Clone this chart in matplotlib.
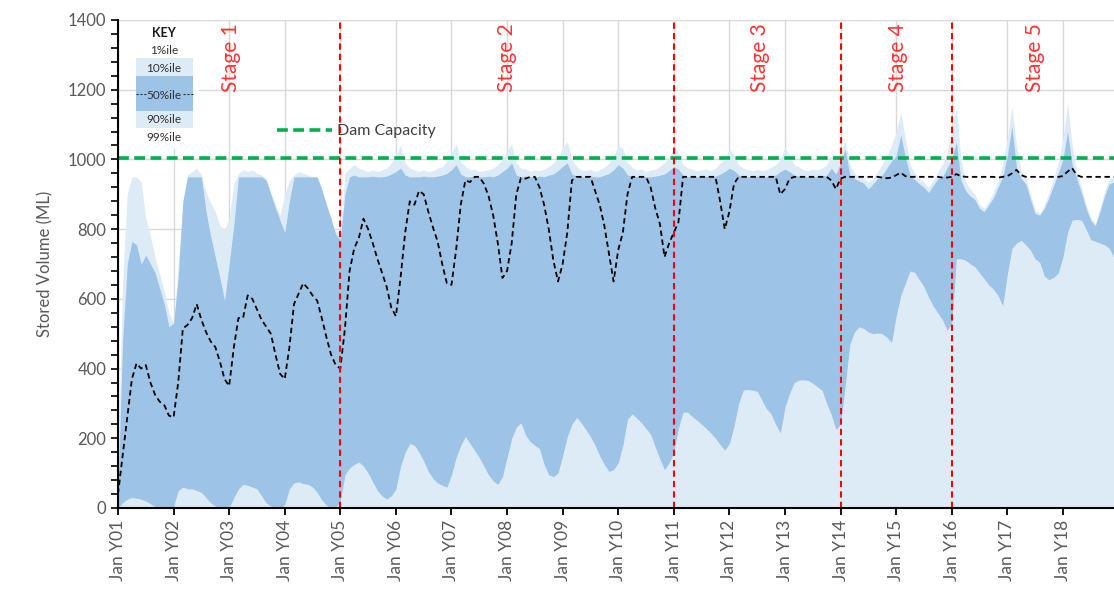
import numpy as np
import matplotlib.pyplot as plt
from matplotlib.lines import Line2D
from matplotlib.patches import Rectangle
from matplotlib.ticker import MultipleLocator

plt.rcParams['font.family'] = ['Lato', 'DejaVu Sans']

# monthly values, Jan Y01 .. Dec Y18 (ML), one row per year
median = [
    40, 150, 260, 370, 415, 400, 410, 360, 325, 305, 295, 265,
    260, 360, 515, 525, 545, 585, 540, 505, 478, 462, 420, 370,
    350, 460, 545, 545, 610, 600, 570, 540, 520, 500, 440, 385,
    370, 460, 585, 615, 645, 630, 610, 595, 545, 490, 440, 410,
    400, 515, 680, 745, 775, 830, 800, 760, 715, 675, 635, 575,
    550, 660, 790, 880, 870, 910, 900, 850, 805, 765, 700, 645,
    640, 740, 870, 940, 935, 950, 950, 930, 895, 840, 760, 660,
    680, 760, 900, 947, 945, 950, 950, 920, 870, 800, 710, 650,
    700, 790, 940, 950, 950, 950, 950, 910, 870, 810, 730, 650,
    740, 790, 900, 950, 950, 950, 950, 920, 860, 815, 720, 760,
    790, 820, 950, 950, 950, 950, 950, 950, 950, 950, 880, 800,
    850, 930, 950, 950, 950, 950, 950, 950, 950, 950, 950, 900,
    915, 945, 950, 950, 950, 950, 950, 950, 950, 950, 940, 915,
    945, 950, 950, 950, 950, 950, 950, 950, 950, 948, 946, 948,
    955, 962, 952, 950, 950, 950, 950, 950, 950, 950, 948, 948,
    950, 958, 952, 950, 950, 950, 950, 950, 950, 950, 948, 950,
    952, 960, 970, 955, 950, 950, 950, 950, 950, 950, 950, 950,
    952, 965, 975, 955, 950, 950, 950, 950, 950, 950, 950, 950,
]

# 10%ile (top of the darker band)
p10 = [
    60, 480, 700, 765, 755, 700, 725, 700, 675, 630, 585, 520,
    530, 660, 880, 950, 950, 950, 950, 850, 780, 720, 660, 595,
    700, 810, 950, 950, 950, 950, 950, 950, 940, 900, 860, 825,
    790, 880, 950, 950, 950, 950, 950, 950, 915, 870, 830, 785,
    770, 900, 950, 955, 950, 950, 950, 952, 950, 950, 952, 958,
    965, 975, 955, 950, 950, 950, 952, 950, 950, 952, 955, 960,
    970, 985, 958, 950, 950, 952, 950, 950, 952, 950, 955, 965,
    975, 990, 955, 950, 952, 950, 950, 952, 950, 955, 958, 968,
    980, 990, 958, 952, 950, 950, 952, 950, 950, 955, 960, 970,
    985, 975, 955, 952, 950, 952, 950, 950, 952, 955, 958, 968,
    980, 972, 955, 950, 952, 950, 950, 952, 950, 952, 958, 965,
    975, 968, 955, 950, 950, 950, 952, 950, 950, 952, 955, 965,
    972, 965, 955, 952, 950, 950, 952, 950, 952, 955, 975, 958,
    990, 1030, 955, 945, 938, 932, 915, 930, 945, 955, 975, 995,
    1010, 1070, 1005, 955, 942, 930, 920, 905, 925, 945, 950, 975,
    1000, 1050, 940, 910, 895, 885, 860, 850, 870, 890, 920, 950,
    1010, 1095, 975, 945, 930, 885, 845, 840, 860, 890, 925, 960,
    1000, 1080, 985, 945, 905, 860, 825, 810, 850, 895, 930, 935,
]

# 90%ile (bottom of the darker band)
p90 = [
    0, 15, 25, 30, 28, 25, 20, 12, 5, 0, 0, 0,
    5, 50, 60, 55, 55, 50, 45, 30, 15, 5, 0, 0,
    0, 30, 55, 68, 65, 60, 55, 35, 15, 5, 0, 0,
    10, 55, 72, 75, 70, 68, 60, 45, 23, 8, 0, 0,
    20, 95, 115, 125, 132, 120, 100, 75, 50, 35, 26, 35,
    55, 120, 160, 185, 180, 160, 135, 105, 85, 72, 65, 60,
    95, 145, 180, 205, 185, 165, 145, 120, 95, 78, 68, 90,
    145, 200, 232, 244, 210, 190, 180, 170, 125, 95, 90, 100,
    150, 205, 240, 260, 245, 225, 205, 180, 150, 125, 105, 110,
    130, 180, 255, 270, 258, 245, 228, 212, 175, 140, 110, 130,
    160, 230, 275, 275, 262, 252, 240, 228, 215, 200, 182, 166,
    185, 235, 300, 338, 340, 338, 335, 310, 285, 270, 240, 215,
    290, 330, 360, 367, 368, 366, 358, 348, 338, 300, 268, 225,
    240, 350, 470, 505, 520, 515, 505, 500, 502, 500, 490, 475,
    550, 610, 645, 680, 676, 655, 635, 605, 580, 560, 540, 510,
    530, 715, 715, 711, 700, 692, 675, 658, 640, 628, 610, 580,
    670, 745, 760, 768, 755, 740, 715, 705, 665, 655, 662, 674,
    720, 790, 826, 828, 826, 800, 770, 765, 760, 755, 745, 720,
]

# 1%ile (top of the light band)
p1 = [
    150, 650, 900, 950, 950, 935, 830, 780, 720, 670, 620, 560,
    530, 700, 870, 955, 965, 975, 955, 905, 875, 850, 810, 800,
    830, 930, 960, 970, 965, 970, 960, 955, 945, 905, 870, 840,
    900, 940, 955, 965, 960, 955, 950, 940, 910, 860, 815, 795,
    790, 960, 975, 985, 975, 970, 965, 970, 965, 970, 975, 990,
    1010, 1040, 990, 975, 970, 965, 970, 965, 968, 975, 980, 995,
    1020, 1045, 995, 980, 970, 972, 965, 968, 970, 975, 985, 1000,
    1025, 1045, 990, 975, 972, 965, 970, 968, 972, 980, 990, 1005,
    1035, 1050, 1000, 980, 970, 968, 972, 965, 970, 978, 990, 1010,
    1040, 1030, 990, 978, 970, 972, 965, 970, 972, 980, 990, 1005,
    1035, 1020, 985, 975, 972, 968, 970, 972, 968, 975, 990, 1000,
    1030, 1015, 985, 975, 970, 968, 972, 968, 970, 978, 985, 1000,
    1035, 1010, 985, 978, 970, 968, 972, 970, 975, 985, 1010, 1000,
    1020, 1055, 985, 960, 950, 945, 935, 945, 965, 985, 1010, 1040,
    1080, 1135, 1060, 985, 960, 945, 935, 920, 940, 965, 985, 1020,
    1080, 1150, 1000, 935, 915, 900, 870, 860, 880, 905, 940, 985,
    1060, 1150, 1040, 965, 945, 900, 855, 845, 870, 905, 945, 990,
    1060, 1160, 1040, 965, 920, 870, 835, 815, 860, 910, 945, 950,
]

year_labels = ['Jan Y%02d' % i for i in range(1, 19)]
stage_names = ['Stage 1', 'Stage 2', 'Stage 3', 'Stage 4', 'Stage 5']
stage_label_x = [2.03, 7.0, 11.55, 14.03, 16.5]
stage_starts = [4, 10, 13, 15]
dam_capacity = 1005

t = np.arange(len(median)) / 12.0

light = '#ddebf7'
dark = '#9dc3e6'
grey = '#595959'

fig = plt.figure(figsize=(11.14, 5.93), dpi=100)
ax = fig.add_axes([118 / 1114, 85 / 593, 996 / 1114, 488 / 593])

ax.fill_between(t, 0, p1, color=light, lw=0, zorder=1)
ax.fill_between(t, p90, p10, color=dark, lw=0, zorder=2)
ax.plot(t, median, color='black', lw=1.3, ls=(0, (3, 2)), zorder=4)

ax.axhline(dam_capacity, color='#00b050', lw=2.6, ls=(0, (3, 1.5)), zorder=5)
for s in stage_starts:
    ax.axvline(s, color='red', lw=1.5, ls=(0, (3, 2)), zorder=5)
for name, xs in zip(stage_names, stage_label_x):
    ax.text(xs, 1193, name, rotation=90, ha='center', va='bottom', color='#ff3333',
            fontsize=15, zorder=6)

ax.set_xlim(0, 17.92)
ax.set_ylim(0, 1400)
ax.set_xticks(range(18))
ax.set_xticklabels(year_labels, rotation=90, fontsize=12.5, color=grey)
ax.set_yticks(range(0, 1401, 200))
ax.yaxis.set_minor_locator(MultipleLocator(40))
ax.tick_params(axis='y', which='both', direction='out', length=5, width=1.2,
               labelsize=12, labelcolor=grey)
ax.tick_params(axis='x', direction='inout', length=10, width=1.3)
ax.set_ylabel('Stored Volume (ML)', fontsize=12, color=grey, labelpad=10)

ax.grid(True, color='#d9d9d9', lw=1)
ax.set_axisbelow(True)
for sp in ['top', 'right']:
    ax.spines[sp].set_visible(False)
for sp in ['left', 'bottom']:
    ax.spines[sp].set_linewidth(1.5)
    ax.spines[sp].set_zorder(7)

leg_handle = Line2D([], [], color='#00b050', lw=2.6, ls=(0, (3, 1.5)))
ax.legend([leg_handle], ['Dam Capacity'], loc='center left', bbox_to_anchor=(0.16, 0.7725),
          frameon=False, fontsize=11.5, handlelength=3.4, handletextpad=0.35,
          borderpad=0, borderaxespad=0, labelcolor='#404040')

# key inset
ta = ax.transAxes
ax.add_patch(Rectangle((0.018, 0.738), 0.062, 0.258, transform=ta, color='white', zorder=8))
ax.add_patch(Rectangle((0.0181, 0.7787), 0.0572, 0.1434, transform=ta, color=light, lw=0, zorder=9))
ax.add_patch(Rectangle((0.0181, 0.8135), 0.0572, 0.0717, transform=ta, color=dark, lw=0, zorder=9))
ax.plot([0.0181, 0.029], [0.848, 0.848], transform=ta, color='#333333', lw=0.8, ls=(0, (2, 1.5)), zorder=10)
ax.plot([0.065, 0.0753], [0.848, 0.848], transform=ta, color='#333333', lw=0.8, ls=(0, (2, 1.5)), zorder=10)
kx = 0.0462
ax.text(kx, 0.9734, 'KEY', transform=ta, ha='center', va='center', fontsize=9, fontweight='bold', color='#1a1a1a', zorder=10)
for lab, ky in zip(['1%ile', '10%ile', '50%ile', '90%ile', '99%ile'], [0.9365, 0.9016, 0.8463, 0.7951, 0.7582]):
    ax.text(kx, ky, lab, transform=ta, ha='center', va='center', fontsize=8.5, color='#333333', zorder=10)

fig.savefig('out.png', dpi=100)
